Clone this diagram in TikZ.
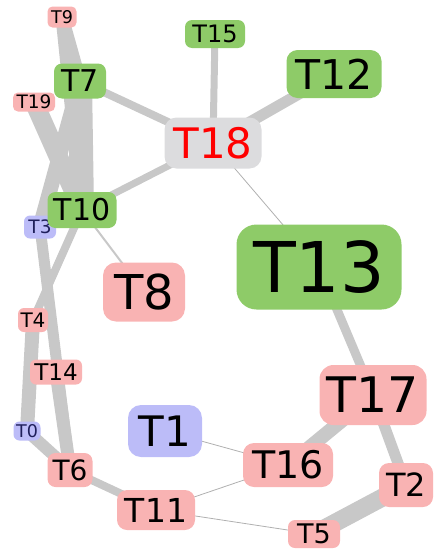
\documentclass[tikz,border=0pt]{standalone}
\usepackage{fontspec}
\setmainfont{DejaVu Sans}
\usetikzlibrary{backgrounds}

\definecolor{tpink}{HTML}{F9B3B3}
\definecolor{tgreen}{HTML}{8ECB68}
\definecolor{tblue}{HTML}{BCBCF8}
\definecolor{tgrey}{HTML}{DCDCDE}
\definecolor{tnavy}{HTML}{1E1E5A}
\definecolor{tedge}{HTML}{C8C8C8}
\definecolor{tthin}{HTML}{B0B0B0}

\newcommand\tfs[1]{\fontsize{#1}{#1}\selectfont}

\tikzset{
  box/.style n args={4}{inner sep=0pt, minimum width=#1pt, minimum height=#2pt,
    rounded corners=#4pt, font=\tfs{#3}},
  pinkbox/.style={fill=tpink, text=black},
  greenbox/.style={fill=tgreen, text=black},
  bluebox/.style={fill=tblue, text=tnavy},
  hubbox/.style={fill=tgrey, text=red},
  edge/.style={draw=tedge, line cap=butt},
  thinedge/.style={draw=tthin, line width=0.8pt},
}

\begin{document}
\begin{tikzpicture}[x=1pt, y=-1pt]
\useasboundingbox (0,0) rectangle (435,557);

% nodes
\node[pinkbox,  box={29}{21}{17.5}{5}]  (t9)  at (62,17)   {T9};
\node[greenbox, box={52}{35}{30}{8}]    (t7)  at (80,81)   {T7};
\node[pinkbox,  box={42}{19}{18.5}{5}]  (t19) at (34,102)  {T19};
\node[bluebox,  box={32}{23}{18.5}{6}]  (t3)  at (40,227)  {T3};
\node[greenbox, box={69}{36}{30}{8}]    (t10) at (82,210)  {T10};
\node[pinkbox,  box={82}{59}{48}{13}]   (t8)  at (144,292) {T8};
\node[greenbox, box={165}{85}{70}{20}]  (t13) at (319,267) {T13};
\node[hubbox,   box={97}{51}{42}{12}]   (t18) at (213,143) {T18};
\node[greenbox, box={60}{28}{24}{7}]    (t15) at (215,34)  {T15};
\node[greenbox, box={95}{48}{41}{11}]   (t12) at (334,74)  {T12};
\node[pinkbox,  box={107}{60}{49}{14}]  (t17) at (373,395) {T17};
\node[pinkbox,  box={90}{44}{38}{11}]   (t16) at (288,465) {T16};
\node[pinkbox,  box={54}{44}{32}{10}]   (t2)  at (406,485) {T2};
\node[pinkbox,  box={52}{28}{27}{7}]    (t5)  at (314,534) {T5};
\node[bluebox,  box={74}{52}{42}{13}, text=black] (t1) at (165,431) {T1};
\node[pinkbox,  box={78}{40}{33}{10}]   (t11) at (156,510) {T11};
\node[pinkbox,  box={45}{34}{28}{8}]    (t6)  at (70,470)  {T6};
\node[bluebox,  box={27}{19}{17.5}{6}]  (t0)  at (27,431)  {T0};
\node[pinkbox,  box={52}{25}{23}{6}]    (t14) at (56,372)  {T14};
\node[pinkbox,  box={30}{24}{20}{6}]    (t4)  at (33,320)  {T4};

% connectors, behind the nodes
\begin{pgfonlayer}{background}
  \draw[edge, line width=13pt] (t9.center) -- (t10.center);
  \draw[edge, line width=13pt] (t9.center) -- (t7.center);
  \draw[edge, line width=24pt] (t7.center) -- (t10.center);
  \draw[edge, line width=19pt] (t19.center) -- (t10.center);
  \draw[edge, line width=15pt] (t7.center) -- (t3.center);
  \draw[edge, line width=11pt] (t3.center) -- (t6.center);
  \draw[edge, line width=13pt] (t14.center) -- (t6.center);
  \draw[edge, line width=8pt]  (t10.center) -- (t4.center);
  \draw[edge, line width=14pt] (t4.center) -- (t0.center);
  \draw[edge, line width=12pt] (t0.center) -- (t6.center);
  \draw[edge, line width=8pt]  (t6.center) -- (t11.center);
  \draw[edge, line width=2pt]  (t10.center) -- (t8.center);
  \draw[edge, line width=8pt]  (t18.center) -- (t7.center);
  \draw[edge, line width=7pt]  (t18.center) -- (t10.center);
  \draw[edge, line width=7pt]  (t18.center) -- (t15.center);
  \draw[edge, line width=11pt] (t18.center) -- (t12.center);
  \draw[thinedge] (t18.center) -- (t13.center);
  \draw[edge, line width=9pt]  (t13.center) -- (t17.center);
  \draw[edge, line width=14pt] (t17.center) -- (t16.center);
  \draw[edge, line width=11pt] (t17.center) -- (t2.center);
  \draw[edge, line width=18pt] (t2.center) -- (t5.center);
  \draw[thinedge] (t1.center) -- (t16.center);
  \draw[thinedge] (t11.center) -- (t16.center);
  \draw[thinedge] (t11.center) -- (t5.center);
\end{pgfonlayer}
\end{tikzpicture}
\end{document}
